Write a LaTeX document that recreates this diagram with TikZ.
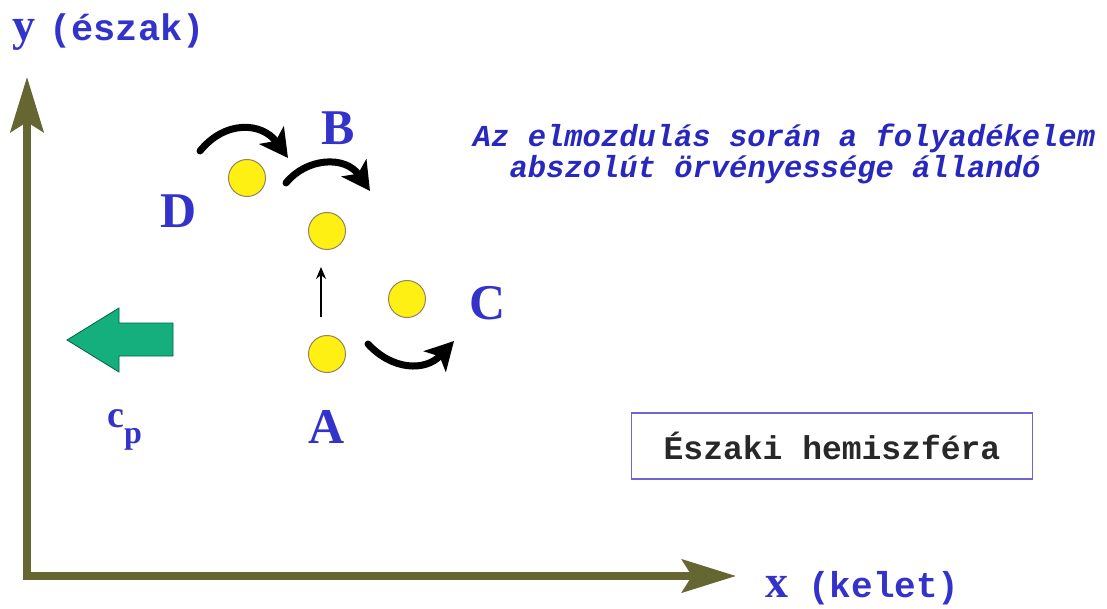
\documentclass[tikz,border=0pt]{standalone}
\usepackage{fontspec}
\setmainfont{Liberation Serif}
\newfontfamily\courfont{Liberation Mono}
\usetikzlibrary{arrows.meta,positioning}
\definecolor{axolive}{RGB}{102,102,51}
\definecolor{lblblue}{RGB}{51,51,204}
\definecolor{txtblue}{RGB}{40,40,190}
\definecolor{ballyellow}{RGB}{255,240,20}
\definecolor{ballrim}{RGB}{150,130,90}
\definecolor{cpgreen}{RGB}{20,175,125}
\definecolor{cpgreendark}{RGB}{0,100,70}
\definecolor{boxrim}{RGB}{110,100,210}
\definecolor{boxtext}{RGB}{40,40,40}

\begin{document}
\begin{tikzpicture}[x=1pt, y=-1pt,
  parcel/.style={
    circle, inner sep=0pt, minimum size=37pt,
    draw=ballrim, line width=1pt,
    fill=ballyellow
  },
  ptlabel/.style={font=\fontsize{50}{56}\selectfont\bfseries, text=lblblue, inner sep=0pt},
  axis/.style={line width=7.5pt, draw=axolive,
    {Stealth[length=55pt,width=33pt,inset=10pt]}-{Stealth[length=54pt,width=33pt,inset=10pt]}},
  swirl/.style={line width=7pt, line cap=round, -{Stealth[length=28pt,width=30pt,inset=7pt]}},
  drift/.style={line width=1.3pt, -{Stealth[length=12pt,width=10pt]}},
  notetext/.style={font=\fontsize{30.5}{32}\selectfont\courfont\bfseries\itshape,
    text=txtblue, inner sep=0pt, anchor=base}
]
\useasboundingbox (0,0) rectangle (1107,609);
\fill[white] (0,0) rectangle (1107,609);

% axes
\coordinate (O) at (27,576);
\coordinate (ytip) at (27,77);
\coordinate (xtip) at (736,576);
\draw[axis] (ytip) |- (xtip);

\node[anchor=base west, inner sep=0pt, text=lblblue] (ylbl) at (12,41)
  {{\fontsize{46}{50}\selectfont\bfseries y}\hspace{14pt}{\fontsize{37}{40}\selectfont\courfont\bfseries (észak)}};
\node[anchor=base west, inner sep=0pt, text=lblblue] (xlbl) at (765,597)
  {{\fontsize{46}{50}\selectfont\bfseries x}\hspace{20pt}{\fontsize{36}{40}\selectfont\courfont\bfseries (kelet)}};

% parcels
\node[parcel] (pD) at (247,178) {};
\node[parcel] (pB) at (327,231) {};
\node[parcel] (pC) at (407,299) {};
\node[parcel] (pA) at (327,354) {};

\node[ptlabel] (lB) at (338,128) {B};
\node[ptlabel] (lD) at (179,211) {D};
\node[ptlabel] (lC) at (488,303) {C};
\node[ptlabel] (lA) at (327,427) {A};

\draw[drift, shorten <=18pt, shorten >=17pt] ([xshift=-6pt]pA.north) -- ([xshift=-6pt]pB.south);

\draw[swirl] (200,151) .. controls (225,120) and (262,122) .. (288,158);
\draw[swirl] (286,183) .. controls (306,158) and (345,155) .. (370,191);
\draw[swirl] (368,344) .. controls (392,370) and (425,372) .. (454,341);

% phase speed
\filldraw[fill=cpgreen, draw=cpgreendark, line width=0.8pt]
  (67,340) -- (119,308) -- (119,323) -- (173,323) -- (173,356) -- (119,356) -- (119,372) -- cycle;
\node[anchor=base west, inner sep=0pt, text=lblblue, font=\fontsize{38}{40}\selectfont\bfseries] (lcp) at (107,427)
  {c\raisebox{-16pt}{\fontsize{32}{36}\selectfont p}};

\node[notetext] (noteA) at (784,147) {Az elmozdulás során a folyadékelem};
\node[notetext] (noteB) at (775,178) {abszolút örvényessége állandó};

\node[draw=boxrim, line width=1.8pt, minimum width=401pt, minimum height=66pt,
  font=\fontsize{33}{36}\selectfont\courfont\bfseries, text=boxtext] (hemi) at (832,446)
  {Északi hemiszféra};
\end{tikzpicture}
\end{document}
